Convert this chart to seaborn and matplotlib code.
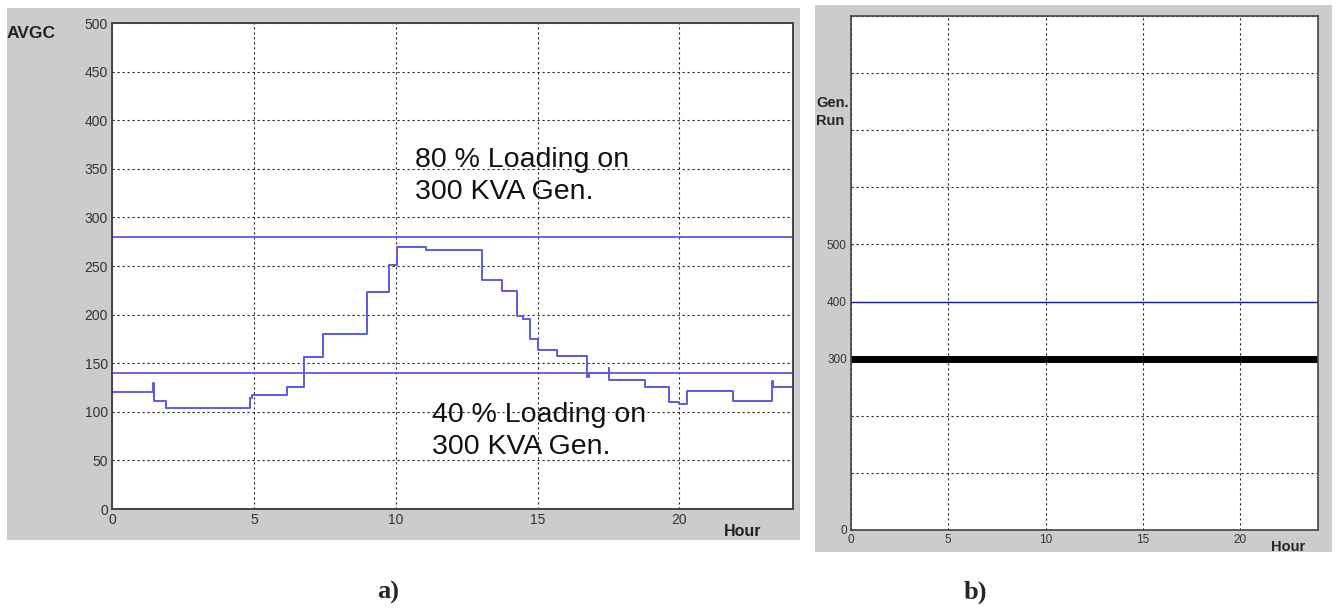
import matplotlib
matplotlib.use('Agg')
import matplotlib.pyplot as plt
from matplotlib.patches import Rectangle
import seaborn as sns

# ---------------- data ----------------
step_hours = [0, 1.44, 1.47, 1.9, 4.87, 4.93, 6.15, 6.76, 7.44, 9.0, 9.77, 10.06,
              11.06, 13.04, 13.75, 14.27, 14.5, 14.73, 15.0, 15.7, 16.75, 16.8,
              17.5, 17.53, 18.77, 19.62, 20.0, 20.25, 21.87, 23.25, 23.28, 24]
avgc_values = [120, 130, 111, 104, 114, 117, 126, 156, 180, 223, 251, 270,
               266, 236, 224, 199, 195, 175, 164, 157, 136, 140,
               145, 133, 126, 110, 108, 121, 111, 132, 126, 126]
load_80 = 280
load_40 = 140
label_80 = "80 % Loading on\n300 KVA Gen."
label_40 = "40 % Loading on\n300 KVA Gen."

hours_b = [0, 23.9]
gen_run_b = [300, 300]
limit_b = 400

x_ticks = [0, 5, 10, 15, 20]
y_ticks_a = list(range(0, 501, 50))
y_ticks_b = list(range(0, 901, 100))
y_labels_b = ['0', '', '', '300', '400', '500', '', '', '', '']

# ---------------- fonts ----------------
SANS = ['Liberation Sans', 'DejaVu Sans']
SERIF = ['Liberation Serif', 'DejaVu Serif']

sns.set_style('white')
plt.rcParams['font.family'] = SANS

fig = plt.figure(figsize=(13.37, 6.08), dpi=100)
fig.patch.set_facecolor('white')
fig.patches.append(Rectangle((0.0052, 0.1118), 0.593, 0.875, transform=fig.transFigure,
                             facecolor='#cccccc', edgecolor='none', zorder=-10))
fig.patches.append(Rectangle((0.6096, 0.0921), 0.3867, 0.8997, transform=fig.transFigure,
                             facecolor='#cccccc', edgecolor='none', zorder=-10))

grid_kw = dict(color='black', linestyle=(0, (2, 2.5)), linewidth=0.8, alpha=0.85)
blue = '#5a5ae6'

# ---------------- panel a ----------------
axa = fig.add_axes([0.0838, 0.1628, 0.5093, 0.7993])
axa.set_zorder(2)
axa.set_facecolor('white')
sns.lineplot(x=step_hours, y=avgc_values, ax=axa, color=blue, linewidth=1.4,
             drawstyle='steps-post', sort=False, estimator=None)
axa.axhline(load_80, color=blue, linewidth=1.3)
axa.axhline(load_40, color=blue, linewidth=1.3)
axa.set_xlim(0, 24)
axa.set_ylim(0, 500)
axa.set_xticks(x_ticks)
axa.set_yticks(y_ticks_a)
axa.grid(True, **grid_kw)
axa.tick_params(direction='in', length=4, labelsize=10, colors='#333333', pad=3)
for lab in axa.get_xticklabels() + axa.get_yticklabels():
    lab.set_color('#333333')
for s in axa.spines.values():
    s.set_color('#444444')
    s.set_linewidth(1.4)
axa.text(10.68, 372, label_80, fontsize=20.5, va='top', ha='left', linespacing=1.28,
         color='#111111')
axa.text(11.27, 110, label_40, fontsize=20.5, va='top', ha='left', linespacing=1.28,
         color='#111111')
fig.text(7 / 1337, 1 - 34 / 608, 'AVGC', fontsize=12.5, fontweight='bold', va='center',
         ha='left', color='#222222')
fig.text(743 / 1337, 1 - 531 / 608, 'Hour', fontsize=11.5, fontweight='bold', va='center',
         ha='center', color='#222222')
fig.text(388 / 1337, 1 - 592 / 608, 'a)', fontsize=19, fontweight='bold', va='center',
         ha='center', family=SERIF)

# ---------------- panel b ----------------
axb = fig.add_axes([0.6365, 0.1283, 0.3493, 0.8454])
axb.set_zorder(2)
axb.set_facecolor('white')
axb.axhline(limit_b, color='#1010d0', linewidth=1.0)
sns.lineplot(x=hours_b, y=gen_run_b, ax=axb, color='black', linewidth=5,
             sort=False, estimator=None)
axb.set_xlim(0, 24)
axb.set_ylim(0, 900)
axb.set_xticks(x_ticks)
axb.set_yticks(y_ticks_b)
axb.set_yticklabels(y_labels_b)
axb.grid(True, **grid_kw)
axb.tick_params(direction='in', length=4, labelsize=8.5, colors='#333333', pad=3)
for lab in axb.get_xticklabels() + axb.get_yticklabels():
    lab.set_color('#333333')
for s in axb.spines.values():
    s.set_color('#444444')
    s.set_linewidth(1.2)
fig.text(816 / 1337, 1 - 112 / 608, 'Gen.\nRun', fontsize=10.5, fontweight='bold', va='center',
         ha='left', linespacing=1.3)
fig.text(1288 / 1337, 1 - 547 / 608, 'Hour', fontsize=10.5, fontweight='bold', va='center',
         ha='center')
fig.text(975 / 1337, 1 - 592 / 608, 'b)', fontsize=19, fontweight='bold', va='center',
         ha='center', family=SERIF)

fig.savefig('out.png', dpi=100, facecolor='white')
